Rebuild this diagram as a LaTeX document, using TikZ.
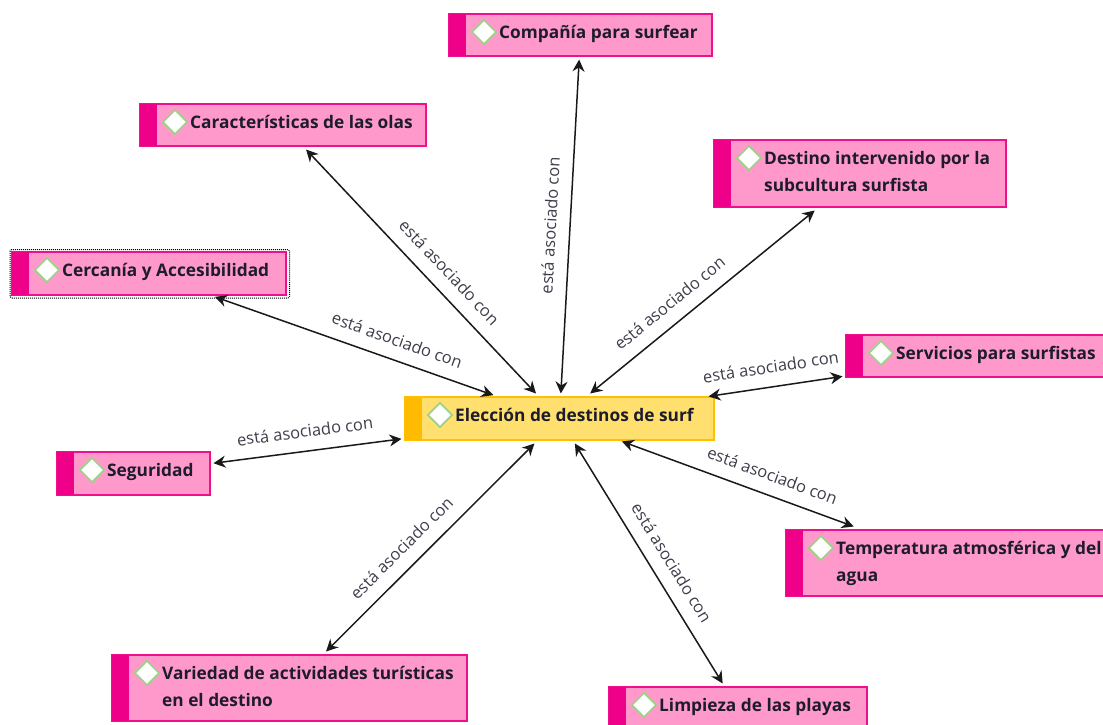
\documentclass[tikz,border=0pt]{standalone}
\usepackage{fontspec}
\setmainfont{Open Sans}
\usetikzlibrary{arrows.meta,shapes.geometric}
\definecolor{pinkfill}{HTML}{FF99CC}
\definecolor{pinkline}{HTML}{F0108C}
\definecolor{pinkstrip}{HTML}{EE0088}
\definecolor{yelfill}{HTML}{FFE06E}
\definecolor{yelline}{HTML}{FFC000}
\definecolor{yelstrip}{HTML}{FFBB00}
\definecolor{dia}{HTML}{A0D088}
\definecolor{ink}{HTML}{1C1C2C}
\tikzset{
  x=1pt,y=-1pt,
  pinkbox/.style={draw=pinkline,fill=pinkfill,line width=1.2pt,inner sep=0pt,outer sep=3.5pt},
  pinkbar/.style={fill=pinkstrip},
  yelbox/.style={draw=yelline,fill=yelfill,line width=1.2pt,inner sep=0pt,outer sep=3.5pt},
  yelbar/.style={fill=yelstrip},
  mark diamond/.style={diamond,draw=dia,fill=white,line width=1.8pt,inner sep=0pt,minimum width=25pt,minimum height=25pt,aspect=1},
  boxtext/.style={font=\bfseries\fontsize{17.3}{26.5}\selectfont,text=ink,align=left,inner sep=0pt,anchor=north west},
  link/.style={{Stealth[length=12pt,width=12pt]}-{Stealth[length=12pt,width=12pt]},line width=1.5pt,black!90},
  linklabel/.style={font=\fontsize{16.5}{18}\selectfont,text=ink!85,sloped,inner sep=1pt,above=12pt},
}
% name, x1, y1, x2, y2, colour prefix, text
\newcommand{\conceptbox}[7]{%
  \node[#6box,minimum width={(#4-#2)*1pt},minimum height={(#5-#3)*1pt}] (#1) at ({(#2+#4)/2},{(#3+#5)/2}) {};
  \fill[#6bar] (#2,#3) rectangle ({#2+17},#5);
  \node[mark diamond] (#1mark) at ({#2+35},{#3+18}) {};
  \node[boxtext] (#1text) at ({#2+50},{#3+6}) {\strut #7};
}
\begin{document}
\begin{tikzpicture}
\useasboundingbox (0,0) rectangle (1103,724);
\clip (0,0) rectangle (1103,724);
\conceptbox{comp}{449}{14}{712}{56}{pink}{Compañía para surfear}
\conceptbox{cara}{140}{104}{426}{146}{pink}{Características de las olas}
\conceptbox{dest}{714}{140}{1006}{207}{pink}{Destino intervenido por la\\subcultura surfista}
\conceptbox{cerc}{12}{252}{286}{295}{pink}{Cercanía y Accesibilidad}
\draw[densely dotted,line width=1pt,rounded corners=1.5pt] (10,249.5) rectangle (289.5,298);
\conceptbox{serv}{846}{335}{1115}{377}{pink}{Servicios para surfistas}
\conceptbox{elec}{405}{397}{714}{440}{yel}{Elección de destinos de surf}
\conceptbox{segu}{57}{452}{210}{495}{pink}{Seguridad}
\conceptbox{temp}{786}{530}{1120}{596}{pink}{Temperatura atmosférica y del\\agua}
\conceptbox{vari}{112}{655}{467}{721}{pink}{Variedad de actividades turísticas\\en el destino}
\conceptbox{limp}{609}{687}{867}{730}{pink}{Limpieza de las playas}
\draw[link] (elec) -- node[linklabel,pos=.44] {está asociado con} (cara);
\draw[link] (elec) -- node[linklabel,pos=.50] {está asociado con} (comp);
\draw[link] (elec) -- node[linklabel,pos=.41] {está asociado con} (dest);
\draw[link,shorten <=-5pt,shorten >=-5pt] (elec) -- node[linklabel,pos=.365] {está asociado con} (cerc);
\draw[link,shorten <=-9pt] (elec) -- node[linklabel,pos=.45] {está asociado con} (serv);
\draw[link] (elec) -- node[linklabel,pos=.50] {está asociado con} (segu);
\draw[link,shorten <=-6pt] (elec) -- node[linklabel,pos=.61] {está asociado con} (temp);
\draw[link] (elec) -- node[linklabel,pos=.57] {está asociado con} (vari);
\draw[link] (elec) -- node[linklabel,pos=.54] {está asociado con} (limp);
\end{tikzpicture}
\end{document}
